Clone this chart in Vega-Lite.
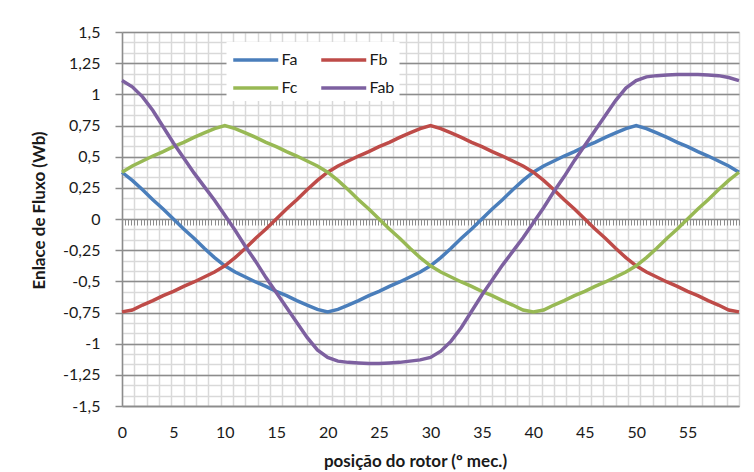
{
  "$schema": "https://vega.github.io/schema/vega-lite/v6.json",
  "width": 617,
  "height": 374,
  "autosize": {"type": "none"},
  "padding": {"left": 122, "top": 32, "right": 15, "bottom": 66},
  "background": "white",
  "config": {
    "view": {"stroke": null},
    "font": "Lato",
    "axis": {"labelFont": "Lato", "titleFont": "Lato"}
  },
  "data": {"values": [
    {"x":0,"s":"Fa","v":0.375},{"x":1,"s":"Fa","v":0.31},{"x":2,"s":"Fa","v":0.235},{"x":3,"s":"Fa","v":0.155},{"x":4,"s":"Fa","v":0.08},{"x":5,"s":"Fa","v":0},{"x":6,"s":"Fa","v":-0.08},{"x":7,"s":"Fa","v":-0.155},{"x":8,"s":"Fa","v":-0.235},{"x":9,"s":"Fa","v":-0.31},{"x":10,"s":"Fa","v":-0.375},{"x":11,"s":"Fa","v":-0.425},{"x":12,"s":"Fa","v":-0.465},{"x":13,"s":"Fa","v":-0.505},{"x":14,"s":"Fa","v":-0.54},{"x":15,"s":"Fa","v":-0.58},{"x":16,"s":"Fa","v":-0.615},{"x":17,"s":"Fa","v":-0.655},{"x":18,"s":"Fa","v":-0.69},{"x":19,"s":"Fa","v":-0.725},{"x":20,"s":"Fa","v":-0.745},{"x":21,"s":"Fa","v":-0.725},{"x":22,"s":"Fa","v":-0.69},{"x":23,"s":"Fa","v":-0.655},{"x":24,"s":"Fa","v":-0.615},{"x":25,"s":"Fa","v":-0.58},{"x":26,"s":"Fa","v":-0.54},{"x":27,"s":"Fa","v":-0.505},{"x":28,"s":"Fa","v":-0.465},{"x":29,"s":"Fa","v":-0.425},{"x":30,"s":"Fa","v":-0.375},{"x":31,"s":"Fa","v":-0.31},{"x":32,"s":"Fa","v":-0.235},{"x":33,"s":"Fa","v":-0.155},{"x":34,"s":"Fa","v":-0.08},{"x":35,"s":"Fa","v":0},{"x":36,"s":"Fa","v":0.08},{"x":37,"s":"Fa","v":0.155},{"x":38,"s":"Fa","v":0.235},{"x":39,"s":"Fa","v":0.31},{"x":40,"s":"Fa","v":0.375},{"x":41,"s":"Fa","v":0.425},{"x":42,"s":"Fa","v":0.465},{"x":43,"s":"Fa","v":0.505},{"x":44,"s":"Fa","v":0.54},{"x":45,"s":"Fa","v":0.58},{"x":46,"s":"Fa","v":0.615},{"x":47,"s":"Fa","v":0.655},{"x":48,"s":"Fa","v":0.69},{"x":49,"s":"Fa","v":0.725},{"x":50,"s":"Fa","v":0.75},{"x":51,"s":"Fa","v":0.725},{"x":52,"s":"Fa","v":0.69},{"x":53,"s":"Fa","v":0.655},{"x":54,"s":"Fa","v":0.615},{"x":55,"s":"Fa","v":0.58},{"x":56,"s":"Fa","v":0.54},{"x":57,"s":"Fa","v":0.505},{"x":58,"s":"Fa","v":0.465},{"x":59,"s":"Fa","v":0.425},{"x":60,"s":"Fa","v":0.375},
    {"x":0,"s":"Fb","v":-0.745},{"x":1,"s":"Fb","v":-0.73},{"x":2,"s":"Fb","v":-0.69},{"x":3,"s":"Fb","v":-0.655},{"x":4,"s":"Fb","v":-0.615},{"x":5,"s":"Fb","v":-0.58},{"x":6,"s":"Fb","v":-0.54},{"x":7,"s":"Fb","v":-0.505},{"x":8,"s":"Fb","v":-0.465},{"x":9,"s":"Fb","v":-0.425},{"x":10,"s":"Fb","v":-0.375},{"x":11,"s":"Fb","v":-0.31},{"x":12,"s":"Fb","v":-0.235},{"x":13,"s":"Fb","v":-0.155},{"x":14,"s":"Fb","v":-0.08},{"x":15,"s":"Fb","v":0},{"x":16,"s":"Fb","v":0.08},{"x":17,"s":"Fb","v":0.155},{"x":18,"s":"Fb","v":0.235},{"x":19,"s":"Fb","v":0.31},{"x":20,"s":"Fb","v":0.375},{"x":21,"s":"Fb","v":0.425},{"x":22,"s":"Fb","v":0.465},{"x":23,"s":"Fb","v":0.505},{"x":24,"s":"Fb","v":0.54},{"x":25,"s":"Fb","v":0.58},{"x":26,"s":"Fb","v":0.615},{"x":27,"s":"Fb","v":0.655},{"x":28,"s":"Fb","v":0.69},{"x":29,"s":"Fb","v":0.725},{"x":30,"s":"Fb","v":0.75},{"x":31,"s":"Fb","v":0.725},{"x":32,"s":"Fb","v":0.69},{"x":33,"s":"Fb","v":0.655},{"x":34,"s":"Fb","v":0.615},{"x":35,"s":"Fb","v":0.58},{"x":36,"s":"Fb","v":0.54},{"x":37,"s":"Fb","v":0.505},{"x":38,"s":"Fb","v":0.465},{"x":39,"s":"Fb","v":0.425},{"x":40,"s":"Fb","v":0.375},{"x":41,"s":"Fb","v":0.31},{"x":42,"s":"Fb","v":0.235},{"x":43,"s":"Fb","v":0.155},{"x":44,"s":"Fb","v":0.08},{"x":45,"s":"Fb","v":0},{"x":46,"s":"Fb","v":-0.08},{"x":47,"s":"Fb","v":-0.155},{"x":48,"s":"Fb","v":-0.235},{"x":49,"s":"Fb","v":-0.31},{"x":50,"s":"Fb","v":-0.375},{"x":51,"s":"Fb","v":-0.425},{"x":52,"s":"Fb","v":-0.465},{"x":53,"s":"Fb","v":-0.505},{"x":54,"s":"Fb","v":-0.54},{"x":55,"s":"Fb","v":-0.58},{"x":56,"s":"Fb","v":-0.615},{"x":57,"s":"Fb","v":-0.655},{"x":58,"s":"Fb","v":-0.69},{"x":59,"s":"Fb","v":-0.73},{"x":60,"s":"Fb","v":-0.745},
    {"x":0,"s":"Fc","v":0.375},{"x":1,"s":"Fc","v":0.425},{"x":2,"s":"Fc","v":0.465},{"x":3,"s":"Fc","v":0.505},{"x":4,"s":"Fc","v":0.54},{"x":5,"s":"Fc","v":0.58},{"x":6,"s":"Fc","v":0.615},{"x":7,"s":"Fc","v":0.655},{"x":8,"s":"Fc","v":0.69},{"x":9,"s":"Fc","v":0.725},{"x":10,"s":"Fc","v":0.75},{"x":11,"s":"Fc","v":0.725},{"x":12,"s":"Fc","v":0.69},{"x":13,"s":"Fc","v":0.655},{"x":14,"s":"Fc","v":0.615},{"x":15,"s":"Fc","v":0.58},{"x":16,"s":"Fc","v":0.54},{"x":17,"s":"Fc","v":0.505},{"x":18,"s":"Fc","v":0.465},{"x":19,"s":"Fc","v":0.425},{"x":20,"s":"Fc","v":0.375},{"x":21,"s":"Fc","v":0.31},{"x":22,"s":"Fc","v":0.235},{"x":23,"s":"Fc","v":0.155},{"x":24,"s":"Fc","v":0.08},{"x":25,"s":"Fc","v":0},{"x":26,"s":"Fc","v":-0.08},{"x":27,"s":"Fc","v":-0.155},{"x":28,"s":"Fc","v":-0.235},{"x":29,"s":"Fc","v":-0.31},{"x":30,"s":"Fc","v":-0.375},{"x":31,"s":"Fc","v":-0.425},{"x":32,"s":"Fc","v":-0.465},{"x":33,"s":"Fc","v":-0.505},{"x":34,"s":"Fc","v":-0.54},{"x":35,"s":"Fc","v":-0.58},{"x":36,"s":"Fc","v":-0.615},{"x":37,"s":"Fc","v":-0.655},{"x":38,"s":"Fc","v":-0.69},{"x":39,"s":"Fc","v":-0.73},{"x":40,"s":"Fc","v":-0.745},{"x":41,"s":"Fc","v":-0.73},{"x":42,"s":"Fc","v":-0.69},{"x":43,"s":"Fc","v":-0.655},{"x":44,"s":"Fc","v":-0.615},{"x":45,"s":"Fc","v":-0.58},{"x":46,"s":"Fc","v":-0.54},{"x":47,"s":"Fc","v":-0.505},{"x":48,"s":"Fc","v":-0.465},{"x":49,"s":"Fc","v":-0.425},{"x":50,"s":"Fc","v":-0.375},{"x":51,"s":"Fc","v":-0.31},{"x":52,"s":"Fc","v":-0.235},{"x":53,"s":"Fc","v":-0.155},{"x":54,"s":"Fc","v":-0.08},{"x":55,"s":"Fc","v":0},{"x":56,"s":"Fc","v":0.08},{"x":57,"s":"Fc","v":0.155},{"x":58,"s":"Fc","v":0.235},{"x":59,"s":"Fc","v":0.31},{"x":60,"s":"Fc","v":0.375},
    {"x":0,"s":"Fab","v":1.11},{"x":1,"s":"Fab","v":1.06},{"x":2,"s":"Fab","v":0.98},{"x":3,"s":"Fab","v":0.87},{"x":4,"s":"Fab","v":0.74},{"x":5,"s":"Fab","v":0.61},{"x":6,"s":"Fab","v":0.49},{"x":7,"s":"Fab","v":0.37},{"x":8,"s":"Fab","v":0.26},{"x":9,"s":"Fab","v":0.15},{"x":10,"s":"Fab","v":0.03},{"x":11,"s":"Fab","v":-0.09},{"x":12,"s":"Fab","v":-0.22},{"x":13,"s":"Fab","v":-0.34},{"x":14,"s":"Fab","v":-0.47},{"x":15,"s":"Fab","v":-0.59},{"x":16,"s":"Fab","v":-0.71},{"x":17,"s":"Fab","v":-0.83},{"x":18,"s":"Fab","v":-0.95},{"x":19,"s":"Fab","v":-1.05},{"x":20,"s":"Fab","v":-1.11},{"x":21,"s":"Fab","v":-1.14},{"x":22,"s":"Fab","v":-1.15},{"x":23,"s":"Fab","v":-1.155},{"x":24,"s":"Fab","v":-1.16},{"x":25,"s":"Fab","v":-1.16},{"x":26,"s":"Fab","v":-1.155},{"x":27,"s":"Fab","v":-1.15},{"x":28,"s":"Fab","v":-1.14},{"x":29,"s":"Fab","v":-1.13},{"x":30,"s":"Fab","v":-1.11},{"x":31,"s":"Fab","v":-1.06},{"x":32,"s":"Fab","v":-0.98},{"x":33,"s":"Fab","v":-0.87},{"x":34,"s":"Fab","v":-0.74},{"x":35,"s":"Fab","v":-0.61},{"x":36,"s":"Fab","v":-0.49},{"x":37,"s":"Fab","v":-0.37},{"x":38,"s":"Fab","v":-0.26},{"x":39,"s":"Fab","v":-0.15},{"x":40,"s":"Fab","v":-0.03},{"x":41,"s":"Fab","v":0.09},{"x":42,"s":"Fab","v":0.22},{"x":43,"s":"Fab","v":0.34},{"x":44,"s":"Fab","v":0.47},{"x":45,"s":"Fab","v":0.59},{"x":46,"s":"Fab","v":0.71},{"x":47,"s":"Fab","v":0.83},{"x":48,"s":"Fab","v":0.95},{"x":49,"s":"Fab","v":1.05},{"x":50,"s":"Fab","v":1.11},{"x":51,"s":"Fab","v":1.14},{"x":52,"s":"Fab","v":1.15},{"x":53,"s":"Fab","v":1.155},{"x":54,"s":"Fab","v":1.16},{"x":55,"s":"Fab","v":1.16},{"x":56,"s":"Fab","v":1.16},{"x":57,"s":"Fab","v":1.155},{"x":58,"s":"Fab","v":1.15},{"x":59,"s":"Fab","v":1.135},{"x":60,"s":"Fab","v":1.11}
  ]},
  "resolve": {"axis": {"x": "independent", "y": "independent"}},
  "layer": [
    {
      "mark": {"type": "line", "opacity": 0},
      "encoding": {
        "x": {"field": "x", "type": "quantitative",
          "scale": {"domain": [0, 60], "nice": false, "zero": false},
          "axis": {"orient": "bottom", "offset": 0, "title": null, "labels": false, "ticks": false, "domain": false,
            "grid": true, "gridColor": "#d9d9d9", "gridWidth": 1.5, "zindex": 0,
            "values": [0,1.2,2.4,3.6,4.8,6,7.2,8.4,9.6,10.8,12,13.2,14.4,15.6,16.8,18,19.2,20.4,21.6,22.8,24,25.2,26.4,27.6,28.8,30,31.2,32.4,33.6,34.8,36,37.2,38.4,39.6,40.8,42,43.2,44.4,45.6,46.8,48,49.2,50.4,51.6,52.8,54,55.2,56.4,57.6,58.8,60]}},
        "y": {"field": "v", "type": "quantitative",
          "scale": {"domain": [-1.5, 1.5], "nice": false, "zero": false},
          "axis": {"orient": "left", "offset": 0, "title": null, "labels": false, "ticks": false, "domain": false,
            "grid": true, "gridColor": "#d9d9d9", "gridWidth": 1.5, "zindex": 0,
            "values": [-1.5,-1.41667,-1.33333,-1.25,-1.16667,-1.08333,-1,-0.91667,-0.83333,-0.75,-0.66667,-0.58333,-0.5,-0.41667,-0.33333,-0.25,-0.16667,-0.08333,0,0.08333,0.16667,0.25,0.33333,0.41667,0.5,0.58333,0.66667,0.75,0.83333,0.91667,1,1.08333,1.16667,1.25,1.33333,1.41667,1.5]}}
      }
    },
    {
      "mark": {"type": "line", "opacity": 0},
      "encoding": {
        "x": {"field": "x", "type": "quantitative",
          "axis": {"orient": "bottom", "offset": 0, "title": "posição do rotor (º mec.)",
            "titleFont": "Lato", "titleFontSize": 17, "titleFontWeight": "bold", "titleColor": "#1a1a1a",
            "titleX": 293, "titleY": 60, "titleBaseline": "alphabetic", "titleAlign": "center", "titleAnchor": null,
            "labels": true, "labelFontSize": 16, "labelColor": "#1a1a1a", "labelPadding": 18, "labelFlush": false,
            "ticks": false, "domain": true, "domainColor": "#8c8c8c", "domainWidth": 1.5, "grid": false, "zindex": 0,
            "values": [0,5,10,15,20,25,30,35,40,45,50,55]}},
        "y": {"field": "v", "type": "quantitative",
          "axis": {"orient": "left", "offset": 0, "title": "Enlace de Fluxo (Wb)",
            "titleFont": "Lato", "titleFontSize": 17, "titleFontWeight": "bold", "titleColor": "#1a1a1a",
            "titleX": -83, "titleY": 178, "titleAngle": 270, "titleBaseline": "middle", "titleAlign": "center", "titleAnchor": null,
            "labelFontSize": 16, "labelColor": "#1a1a1a", "labelPadding": 15, "labelFlush": false,
            "labelExpr": "replace(toString(datum.value), '.', ',')",
            "ticks": true, "tickSize": 7, "tickColor": "#8c8c8c", "tickWidth": 1.5,
            "domain": true, "domainColor": "#8c8c8c", "domainWidth": 1.5,
            "grid": true, "gridColor": "#8c8c8c", "gridWidth": 1.5, "zindex": 0,
            "values": [-1.5,-1.25,-1,-0.75,-0.5,-0.25,0,0.25,0.5,0.75,1,1.25,1.5]}}
      }
    },
    {
      "mark": {"type": "line", "strokeWidth": 3.5, "interpolate": "linear"},
      "encoding": {
        "x": {"field": "x", "type": "quantitative",
          "axis": {"orient": "bottom", "offset": -187, "title": null, "labels": false, "domain": false, "grid": false,
            "ticks": true, "tickSize": 6, "tickColor": "#8c8c8c", "tickWidth": 1, "zindex": 0,
            "values": [0,0.3,0.6,0.9,1.2,1.5,1.8,2.1,2.4,2.7,3,3.3,3.6,3.9,4.2,4.5,4.8,5.1,5.4,5.7,6,6.3,6.6,6.9,7.2,7.5,7.8,8.1,8.4,8.7,9,9.3,9.6,9.9,10.2,10.5,10.8,11.1,11.4,11.7,12,12.3,12.6,12.9,13.2,13.5,13.8,14.1,14.4,14.7,15,15.3,15.6,15.9,16.2,16.5,16.8,17.1,17.4,17.7,18,18.3,18.6,18.9,19.2,19.5,19.8,20.1,20.4,20.7,21,21.3,21.6,21.9,22.2,22.5,22.8,23.1,23.4,23.7,24,24.3,24.6,24.9,25.2,25.5,25.8,26.1,26.4,26.7,27,27.3,27.6,27.9,28.2,28.5,28.8,29.1,29.4,29.7,30,30.3,30.6,30.9,31.2,31.5,31.8,32.1,32.4,32.7,33,33.3,33.6,33.9,34.2,34.5,34.8,35.1,35.4,35.7,36,36.3,36.6,36.9,37.2,37.5,37.8,38.1,38.4,38.7,39,39.3,39.6,39.9,40.2,40.5,40.8,41.1,41.4,41.7,42,42.3,42.6,42.9,43.2,43.5,43.8,44.1,44.4,44.7,45,45.3,45.6,45.9,46.2,46.5,46.8,47.1,47.4,47.7,48,48.3,48.6,48.9,49.2,49.5,49.8,50.1,50.4,50.7,51,51.3,51.6,51.9,52.2,52.5,52.8,53.1,53.4,53.7,54,54.3,54.6,54.9,55.2,55.5,55.8,56.1,56.4,56.7,57,57.3,57.6,57.9,58.2,58.5,58.8,59.1,59.4,59.7,60]}},
        "y": {"field": "v", "type": "quantitative", "axis": null},
        "color": {"field": "s", "type": "nominal",
          "scale": {"domain": ["Fa", "Fb", "Fc", "Fab"], "range": ["#4A7EBB", "#BE4B48", "#98B954", "#7D60A0"]},
          "legend": {"orient": "none", "legendX": 104.5, "legendY": 10, "columns": 2, "direction": "horizontal", "title": null,
            "fillColor": "white", "padding": 5, "symbolType": "M-1,0H3", "symbolSize": 506,
            "symbolStrokeWidth": 3.5, "labelOffset": 24, "columnPadding": 16, "rowPadding": 7,
            "labelFont": "Lato", "labelFontSize": 16, "labelColor": "#1a1a1a", "symbolOpacity": 1}}
      }
    }
  ]
}
